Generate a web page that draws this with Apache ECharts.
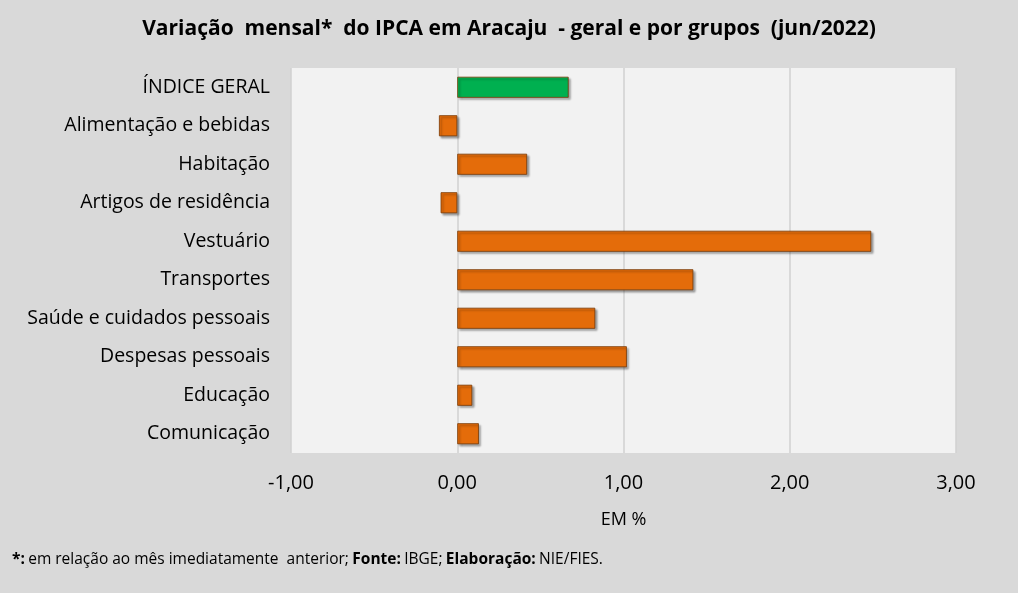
<!DOCTYPE html>
<html><head><meta charset="utf-8">
<script src="https://cdn.jsdelivr.net/npm/echarts@6/dist/echarts.min.js"></script>
<style>html,body{margin:0;background:#d9d9d9}#c{width:1018px;height:593px}</style>
</head><body><div id="c"></div>
<script>
let categories = ['ÍNDICE GERAL', 'Alimentação e bebidas', 'Habitação', 'Artigos de residência', 'Vestuário',
    'Transportes', 'Saúde e cuidados pessoais', 'Despesas pessoais', 'Educação', 'Comunicação'];
let values = [0.67, -0.11, 0.42, -0.10, 2.49, 1.42, 0.83, 1.02, 0.09, 0.13];
let tickLabels = ['-1,00', '0,00', '1,00', '2,00', '3,00'];

let myChart = echarts.init(document.getElementById('c'));
let font = 'Open Sans';
let seriesData = values.map(function (v, i) {
    return {
        value: v,
        itemStyle: {color: i === 0 ? '#00b050' : '#e46c0a'}
    };
});
let option = {
    backgroundColor: '#d9d9d9',
    textStyle: {fontFamily: font},
    title: {
        text: 'Variação  mensal*  do IPCA em Aracaju  - geral e por grupos  (jun/2022)',
        left: 'center', top: 14,
        textStyle: {fontSize: 21, fontWeight: 'bold', color: '#000', fontFamily: font}
    },
    graphic: [{
        type: 'rect', shape: {x: 291, y: 68, width: 665, height: 385},
        style: {fill: '#f2f2f2'}, z: -1
    }, {
        type: 'text', left: 12, top: 552,
        style: {
            rich: {b: {fontWeight: 'bold', fontSize: 15.5, fontFamily: font}, n: {fontSize: 15.5, fontFamily: font}},
            text: '{b|*:} {n|em relação ao mês imediatamente  anterior;} {b|Fonte:} {n|IBGE;} {b|Elaboração:} {n|NIE/FIES.}'
        }
    }],
    grid: {left: 291, right: 62, top: 68, bottom: 140},
    xAxis: {
        type: 'value', min: -1, max: 3, interval: 1,
        name: 'EM %', nameLocation: 'middle', nameGap: 58,
        nameTextStyle: {fontSize: 18, color: '#000'},
        axisLine: {show: false}, axisTick: {show: false},
        splitLine: {lineStyle: {color: '#d0d0d0', width: 1.5}},
        axisLabel: {
            fontSize: 20, color: '#000', margin: 20,
            formatter: function (v) { return tickLabels[Math.round(v) + 1]; }
        }
    },
    yAxis: {
        type: 'category', data: categories, inverse: true,
        axisLine: {show: false}, axisTick: {show: false},
        axisLabel: {fontSize: 19.5, color: '#000', margin: 21}
    },
    series: [{
        type: 'bar', data: seriesData, barWidth: 21,
        itemStyle: {borderColor: '#7a3a05', borderWidth: 0.8, shadowColor: 'rgba(0,0,0,0.35)', shadowOffsetX: 2, shadowOffsetY: 2, shadowBlur: 2}
    }]
};
myChart.setOption(option);
</script></body></html>
